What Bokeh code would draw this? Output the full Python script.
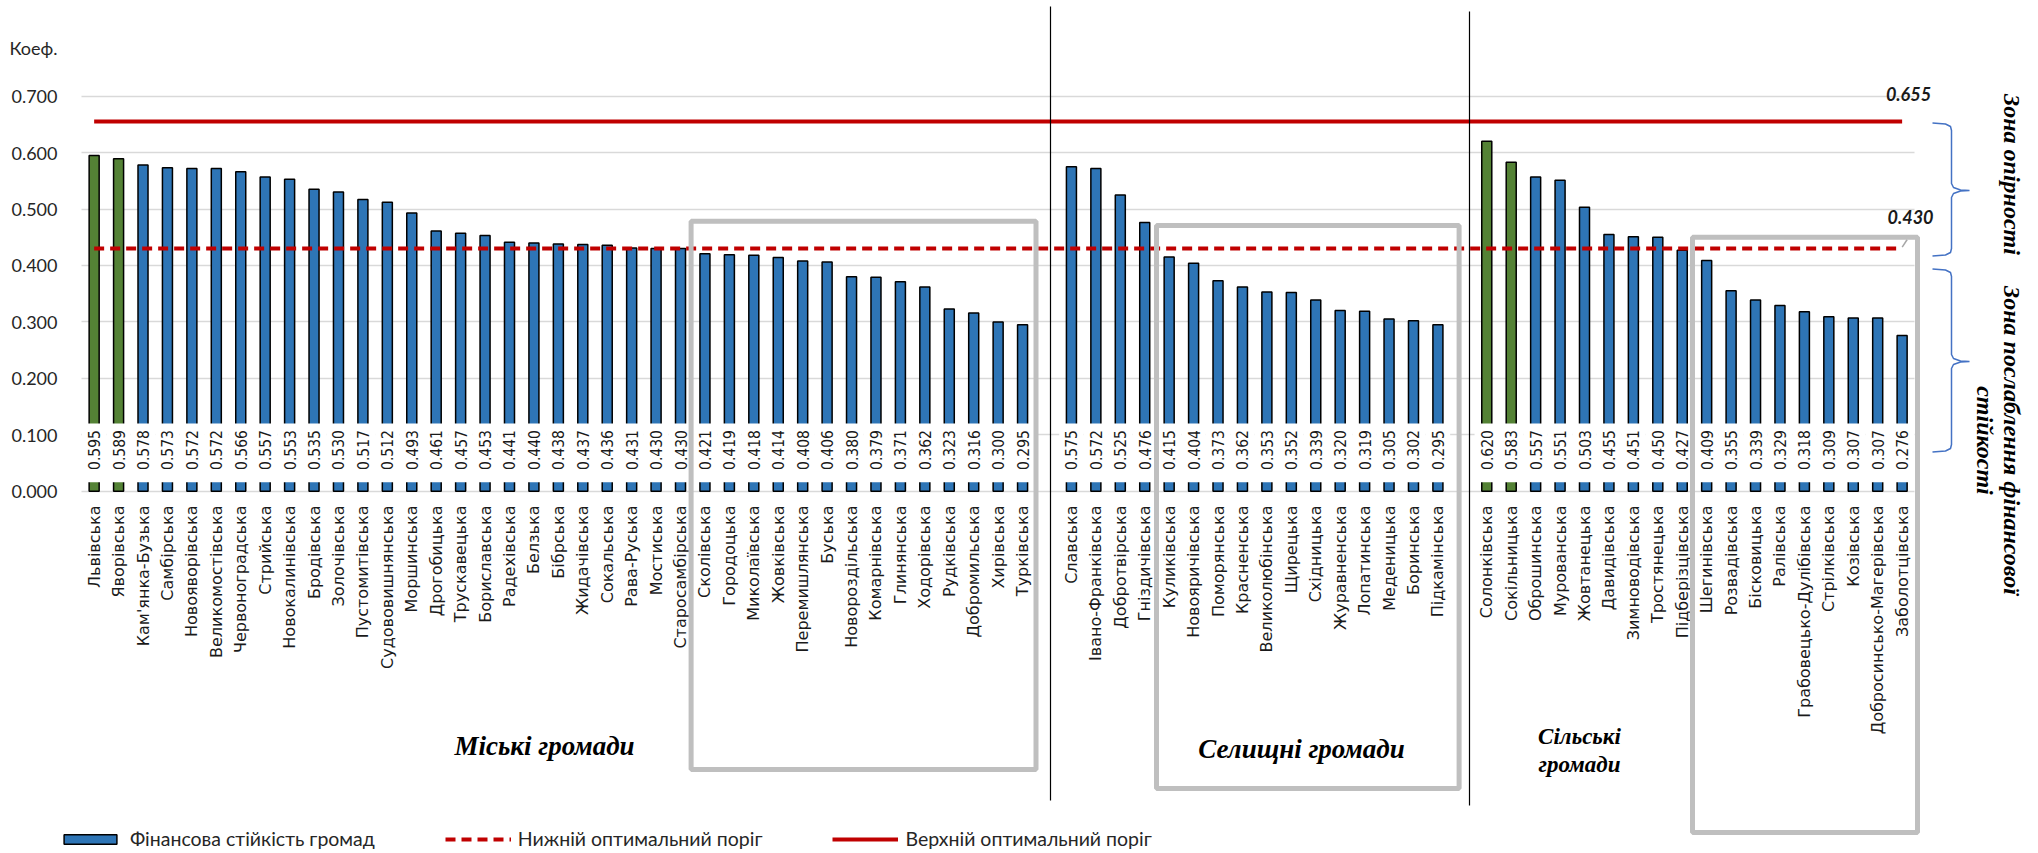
import math
from bokeh.plotting import figure
from bokeh.models import (FactorRange, Range1d, ColumnDataSource, NumeralTickFormatter,
                          FixedTicker, Label, BoxAnnotation, PolyAnnotation, Legend, LegendItem)
from bokeh.core.properties import value
from bokeh.embed import file_html
from bokeh.resources import INLINE

# ---------------- data ----------------
urban_names = ["Львівська", "Яворівська", "Кам'янка-Бузька", "Самбірська", "Новояворівська",
               "Великомостівська", "Червоноградська", "Стрийська", "Новокалинівська", "Бродівська",
               "Золочівська", "Пустомитівська", "Судововишнянська", "Моршинська", "Дрогобицька",
               "Трускавецька", "Бориславська", "Радехівська", "Белзька", "Бібрська", "Жидачівська",
               "Сокальська", "Рава-Руська", "Мостиська", "Старосамбірська", "Сколівська", "Городоцька",
               "Миколаївська", "Жовківська", "Перемишлянська", "Буська", "Новороздільська",
               "Комарнівська", "Глинянська", "Ходорівська", "Рудківська", "Добромильська",
               "Хирівська", "Турківська"]
urban_values = [0.595, 0.589, 0.578, 0.573, 0.572, 0.572, 0.566, 0.557, 0.553, 0.535, 0.530, 0.517,
                0.512, 0.493, 0.461, 0.457, 0.453, 0.441, 0.440, 0.438, 0.437, 0.436, 0.431, 0.430,
                0.430, 0.421, 0.419, 0.418, 0.414, 0.408, 0.406, 0.380, 0.379, 0.371, 0.362, 0.323,
                0.316, 0.300, 0.295]

settlement_names = ["Славська", "Івано-Франківська", "Добротвірська", "Гніздичівська", "Куликівська",
                    "Новояричівська", "Поморянська", "Красненська", "Великолюбінська", "Щирецька",
                    "Східницька", "Журавненська", "Лопатинська", "Меденицька", "Боринська",
                    "Підкамінська"]
settlement_values = [0.575, 0.572, 0.525, 0.476, 0.415, 0.404, 0.373, 0.362, 0.353, 0.352, 0.339,
                     0.320, 0.319, 0.305, 0.302, 0.295]

rural_names = ["Солонківська", "Сокільницька", "Оброшинська", "Мурованська", "Жовтанецька",
               "Давидівська", "Зимноводівська", "Тростянецька", "Підберізцівська", "Шегинівська",
               "Розвадівська", "Бісковицька", "Ралівська", "Грабовецько-Дулібівська", "Стрілківська",
               "Козівська", "Добросинсько-Магерівська", "Заболотцівська"]
rural_values = [0.620, 0.583, 0.557, 0.551, 0.503, 0.455, 0.451, 0.450, 0.427, 0.409, 0.355, 0.339,
                0.329, 0.318, 0.309, 0.307, 0.307, 0.276]

highlighted = ["Львівська", "Яворівська", "Солонківська", "Сокільницька"]

y_ticks = [0.0, 0.1, 0.2, 0.3, 0.4, 0.5, 0.6, 0.7]
upper_threshold = 0.655
lower_threshold = 0.430

axis_title = "Коеф."
axis_title_tick = 0.785
group_titles = ["Міські громади", "Селищні громади", "Сільські", "громади"]
zone_titles = ["Зона опірності", "Зона послаблення фінансової", "стійкості"]
legend_labels = ["Фінансова стійкість громад", "Нижній оптимальний поріг", "Верхній оптимальний поріг"]

# ---------------- layout (reference pixel -> data coordinates) ----------------
W, H = 2036, 853
ML = 57                       # frame starts here; one empty slot before the first bar
N_SLOTS = 81                  # 1 lead + 39 + 1 + 16 + 1 + 18 + 5 trailing
SLOT = (W - ML) / N_SLOTS
ZERO_PY = 490.7               # pixel row of value 0
PPU = 564.3                   # pixels per unit of value


def sx(px):
    return (px - ML) / SLOT


def sy(py):
    return (ZERO_PY - py) / PPU


names = urban_names + settlement_names + rural_names
values = urban_values + settlement_values + rural_values
factors = ([" "] + urban_names + ["  "] + settlement_names + ["   "] + rural_names
           + [" " * (4 + k) for k in range(5)])

BLUE = "#2E75B6"
GREEN = "#548235"
RED = "#C00000"
GRID = "#D9D9D9"
TXT = "#1a1a1a"

src = ColumnDataSource(dict(
    x=names,
    top=values,
    color=[GREEN if n in highlighted else BLUE for n in names],
    label=[f"{v:.3f}" for v in values],
))

p = figure(x_range=FactorRange(factors=factors), y_range=Range1d(sy(H), sy(0)),
           width=W, height=H, output_backend="svg", toolbar_location=None, title=None,
           x_axis_location=None, min_border=0, min_border_left=ML,
           background_fill_color="white", border_fill_color="white")
p.outline_line_color = None

# y axis (the axis title sits as an extra tick at the top)
p.yaxis.ticker = FixedTicker(ticks=y_ticks + [axis_title_tick])
p.yaxis.formatter = NumeralTickFormatter(format="0.000")
p.yaxis.major_label_overrides = {axis_title_tick: axis_title}
p.yaxis.major_label_text_font = "Lato"
p.yaxis.major_label_text_font_size = "18px"
p.yaxis.major_label_text_color = "#262626"
p.yaxis.axis_line_color = None
p.yaxis.major_tick_line_color = None
p.yaxis.minor_tick_line_color = None
p.yaxis.major_tick_out = 0
p.yaxis.major_tick_in = 0
p.yaxis.major_label_standoff = 0

p.xgrid.grid_line_color = None
p.ygrid.ticker = FixedTicker(ticks=y_ticks)
p.ygrid.grid_line_color = GRID
p.ygrid.grid_line_width = 1.5
try:
    p.ygrid.cross_bounds = (1, 76)
except Exception:
    p.ygrid.visible = False
    p.segment(x0=[1] * len(y_ticks), x1=[76] * len(y_ticks), y0=y_ticks, y1=y_ticks,
              line_color=GRID, line_width=1.5)

# bars
bars = p.vbar(x="x", top="top", width=0.41, source=src, fill_color="color",
              line_color="black", line_width=1.5)

# value labels with white background (inside base)
p.vbar(x="x", bottom=0.016, top=0.12, width=1.0, source=src, fill_color="white", line_color=None)
p.text(x="x", y=0.073, text="label", source=src, angle=math.pi / 2, text_align="center",
       text_baseline="middle",
       text_font=value("Liberation Sans Narrow, DejaVu Sans Condensed, DejaVu Sans"),
       text_font_size="15.5px", text_color=TXT)

# category labels under the zero line
p.text(x="x", y=sy(505), text="x", source=src, angle=math.pi / 2, text_align="right",
       text_baseline="middle", text_font=value("DejaVu Sans"), text_font_size="16px",
       text_color=TXT)

# threshold lines
upper_line = p.line(x=[names[0], names[-1]], y=[upper_threshold, upper_threshold],
                    line_color=RED, line_width=4)
lower_line = p.line(x=[names[0], names[-1]], y=[lower_threshold, lower_threshold],
                    line_color=RED, line_width=4, line_dash="10 6")

# leader line from the 0.430 label
p.segment(x0=[sx(1901.7)], y0=[sy(246.7)], x1=[sx(1906.7)], y1=[sy(239)],
          line_color="#A6A6A6", line_width=1.5)

# group separators
for px, top_py, bot_py in [(1050, 6, 800), (1469, 11, 805)]:
    p.add_layout(PolyAnnotation(xs=[sx(px), sx(px)], ys=[sy(top_py), sy(bot_py)],
                                xs_units="data", ys_units="data", fill_alpha=0,
                                line_color="black", line_alpha=1.0, line_width=1.2))

# grey frames
for l, r, t, b in [(690.6, 1035.5, 220.7, 769), (1156, 1458.6, 225, 788), (1692, 1917, 236.7, 832)]:
    p.add_layout(BoxAnnotation(left=sx(l), right=sx(r), top=sy(t), bottom=sy(b),
                               fill_alpha=0, line_color="#BFBFBF", line_alpha=1.0, line_width=5))


# braces
def brace(top_py, bot_py, tip_py, x0=1932, x1=1951, x2=1969):
    pts = [(x0, top_py + 0.5), (x0 + 13, top_py + 1.5), (x1 - 1, top_py + 4), (x1, top_py + 8),
           (x1, tip_py - 7), (x1 + 2, tip_py - 3), (x1 + 9, tip_py - 0.5), (x2, tip_py),
           (x1 + 9, tip_py + 0.5), (x1 + 2, tip_py + 3), (x1, tip_py + 7),
           (x1, bot_py - 8), (x1 - 1, bot_py - 4), (x0 + 13, bot_py - 1.5), (x0, bot_py - 0.5)]
    xs = [sx(a) for a, _ in pts]
    ys = [sy(b) for _, b in pts]
    return xs + xs[::-1], ys + ys[::-1]


for t, b, m in [(122, 256, 190), (268, 452, 361)]:
    bx, by = brace(t, b, m)
    p.add_layout(PolyAnnotation(xs=bx, ys=by, xs_units="data", ys_units="data", fill_alpha=0,
                                line_color="#4472C4", line_alpha=1.0, line_width=1.5))

# text annotations
BI = dict(text_font_style="bold italic")
p.add_layout(Label(x=sx(1908), y=sy(93.5), text=f"{upper_threshold:.3f}", text_font="Lato",
                   text_font_size="18px", text_align="center", text_baseline="middle",
                   text_color=TXT, **BI))
p.add_layout(Label(x=sx(1910), y=sy(216.5), text=f"{lower_threshold:.3f}", text_font="Lato",
                   text_font_size="18px", text_align="center", text_baseline="middle",
                   text_color=TXT, **BI))

SERIF = "Liberation Serif"
for txt, px, py, fs in [(group_titles[0], 544, 745, "27px"), (group_titles[1], 1301, 748, "27px"),
                        (group_titles[2], 1579, 736, "23px"), (group_titles[3], 1579, 764, "23px")]:
    p.add_layout(Label(x=sx(px), y=sy(py), text=txt, text_font=SERIF, text_font_size=fs,
                       text_align="center", text_baseline="middle", text_color="black", **BI))

for txt, px, py in [(zone_titles[0], 2011, 174), (zone_titles[1], 2011, 440), (zone_titles[2], 1984, 440)]:
    p.add_layout(Label(x=sx(px), y=sy(py), text=txt, text_font=SERIF, text_font_size="24px",
                       angle=-math.pi / 2, text_align="center", text_baseline="middle",
                       text_color="black", **BI))

# legend
legend = Legend(items=[LegendItem(label=legend_labels[0], renderers=[bars], index=2),
                       LegendItem(label=legend_labels[1], renderers=[lower_line]),
                       LegendItem(label=legend_labels[2], renderers=[upper_line])],
                orientation="horizontal", location=(0, 3), glyph_width=66, glyph_height=12,
                label_standoff=7, spacing=70, padding=0, margin=0, border_line_color=None,
                background_fill_alpha=0, label_text_font="Lato", label_text_font_size="19.5px",
                label_text_color="#262626")
p.add_layout(legend)

open("out.html", "w").write(file_html(p, INLINE))
